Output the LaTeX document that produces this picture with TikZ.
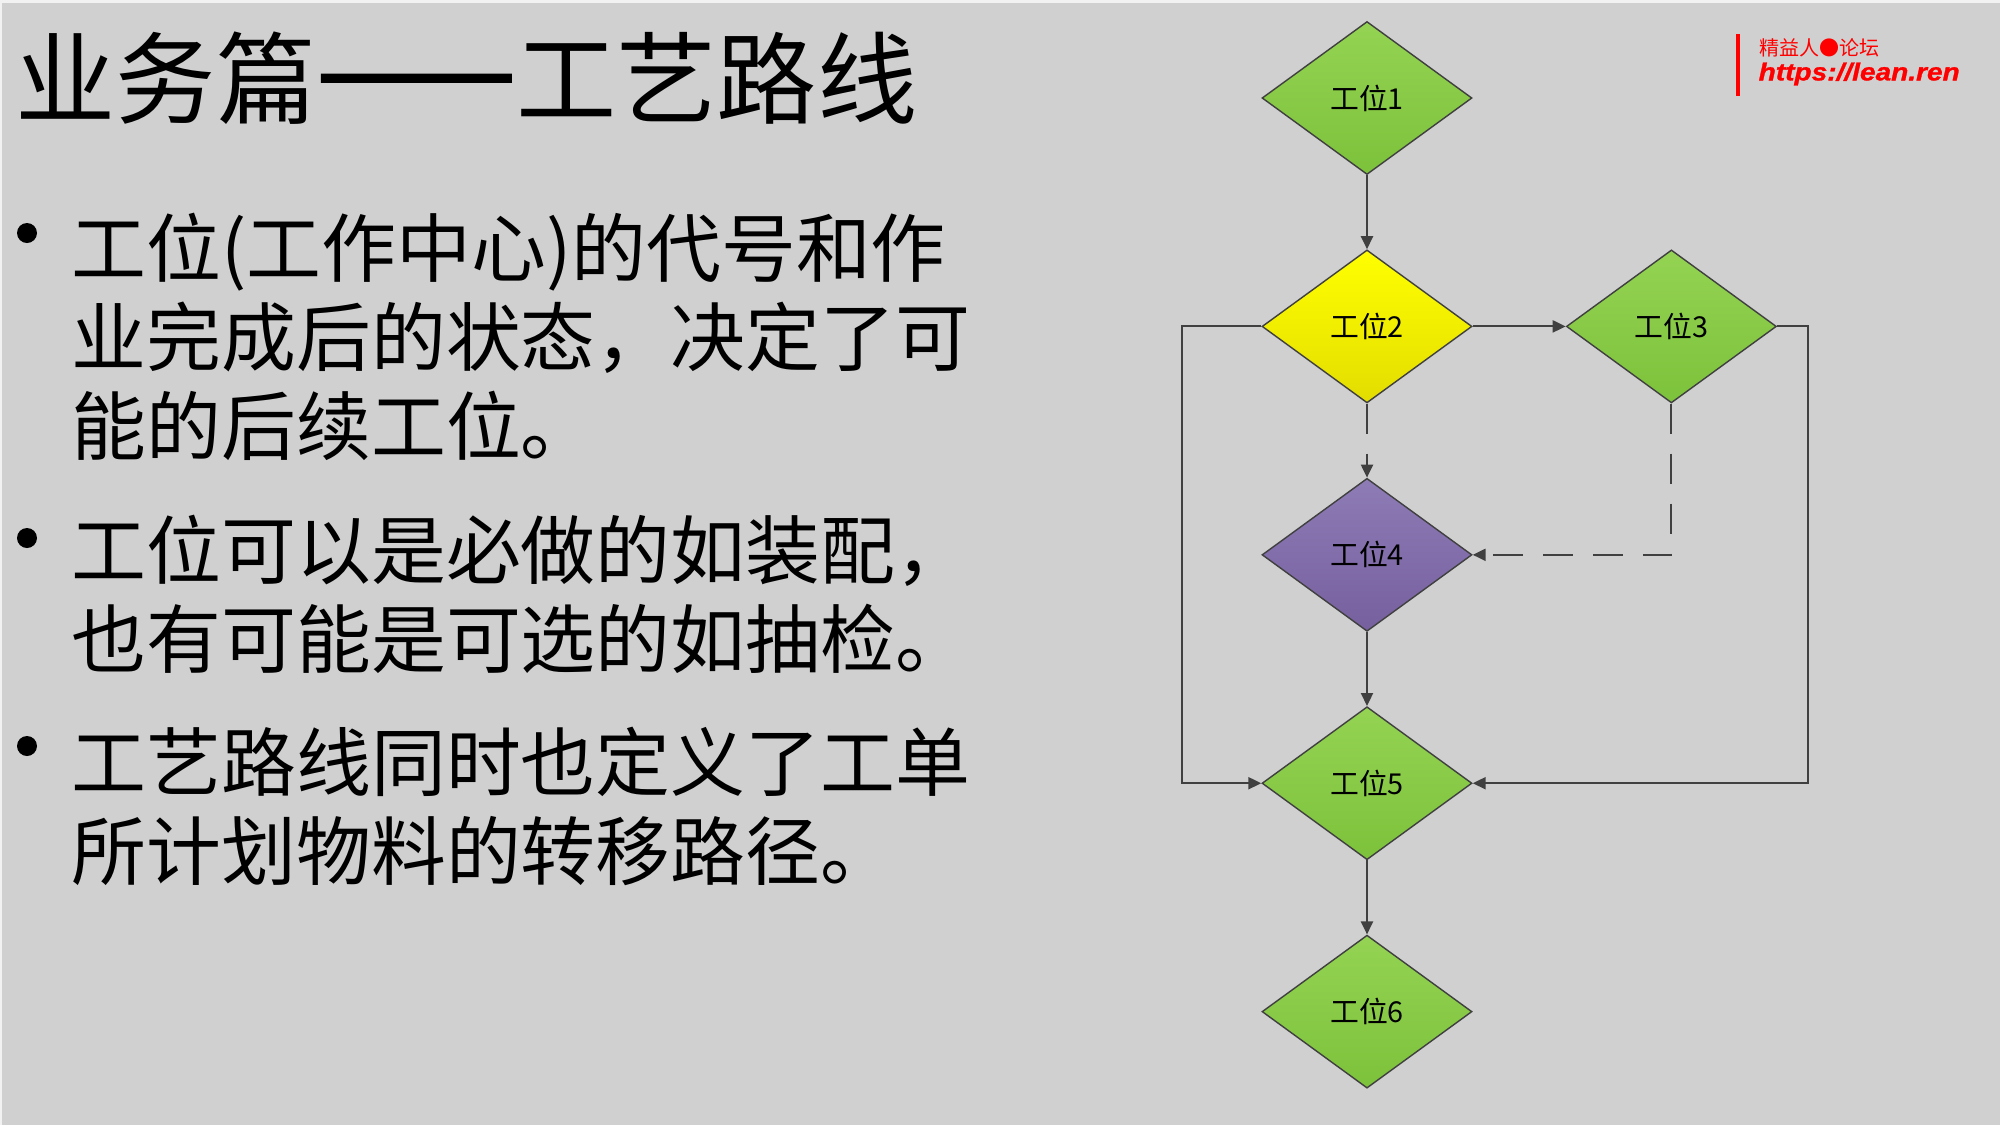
\documentclass[tikz,border=0pt]{standalone}
\usepackage{fontspec}
\setmainfont{Noto Sans CJK SC}
\newfontfamily\urlfont[FakeStretch=1.14, FakeBold=1.2]{Liberation Sans}
\usepackage{tikz}
\usetikzlibrary{shapes, arrows.meta, positioning}
\definecolor{slidebg}{HTML}{D0D0D0}
\definecolor{linegray}{HTML}{404040}
\definecolor{greentop}{HTML}{94D353}
\definecolor{greenbot}{HTML}{7DC23B}
\definecolor{yellowtop}{HTML}{FFFF00}
\definecolor{yellowbot}{HTML}{E3DD00}
\definecolor{purpletop}{HTML}{8E7CB6}
\definecolor{purplebot}{HTML}{76609E}
\tikzstyle{station} = [diamond, draw=linegray, line width=0.4pt, minimum width=2.1cm, minimum height=1.53cm, inner sep=0pt, font=\fontsize{8.2}{9}\selectfont]
\tikzstyle{greenst} = [top color=greentop, bottom color=greenbot]
\tikzstyle{yellowst} = [top color=yellowtop, bottom color=yellowbot]
\tikzstyle{purplest} = [top color=purpletop, bottom color=purplebot]
\tikzstyle{flow} = [draw=linegray, line width=0.6pt, -{Triangle[length=1.3mm, width=1.2mm]}]
\tikzstyle{optional} = [dash pattern=on 3mm off 2mm]
\tikzstyle{bullettext} = [anchor=north west, inner sep=0pt, align=left, font=\fontsize{21.3}{25.4}\selectfont]
\tikzstyle{bulletdot} = [circle, fill=black, inner sep=0pt, minimum size=0.2cm]

\begin{document}
\begin{tikzpicture}
	\useasboundingbox (0,0) rectangle (20,-11.25);
	\fill[slidebg] (0,0) rectangle (20,-11.25);
	\fill[gray!10] (0,0) rectangle (20,-0.03);
	\fill[gray!10] (0,0) rectangle (0.02,-11.25);

	\node[anchor=west, inner sep=0pt, font=\fontsize{28.5}{34}\selectfont] (title) at (0.15,-0.78) {业务篇{\addfontfeature{CharacterWidth=Full, FakeBold=5}——}工艺路线};

	\node[bulletdot] (dot1) at (0.27,-2.33) {};
	\node[bullettext] (item1) at (0.71,-2.12) {工位(工作中心)的代号和作\\业完成后的状态，决定了可\\能的后续工位。};
	\node[bulletdot] (dot2) at (0.27,-5.38) {};
	\node[bullettext] (item2) at (0.71,-5.14) {工位可以是必做的如装配，\\也有可能是可选的如抽检。};
	\node[bulletdot] (dot3) at (0.27,-7.46) {};
	\node[bullettext] (item3) at (0.71,-7.26) {工艺路线同时也定义了工单\\所计划物料的转移路径。};

	\node[station, greenst] (st1) at (13.67,-0.98) {工位1};
	\node[station, yellowst] (st2) [below=0.74cm of st1] {工位2};
	\node[station, greenst] (st3) [right=0.93cm of st2] {工位3};
	\node[station, purplest] (st4) [below=0.74cm of st2] {工位4};
	\node[station, greenst] (st5) [below=0.74cm of st4] {工位5};
	\node[station, greenst] (st6) [below=0.74cm of st5] {工位6};
	\coordinate (leftbus) at (11.82,0);
	\coordinate (rightbus) at (18.08,0);

	\draw[flow] (st1) -- (st2);
	\draw[flow] (st2) -- (st3);
	\draw[flow, optional] (st2) -- (st4);
	\draw[flow, optional] (st3.south) |- (st4.east);
	\draw[flow] (st4) -- (st5);
	\draw[flow] (st2.west) -- (st2.west -| leftbus) |- (st5.west);
	\draw[flow] (st3.east) -- (st3.east -| rightbus) |- (st5.east);
	\draw[flow] (st5) -- (st6);

	\draw[red, line width=0.04cm] (17.38,-0.34) coordinate (bartop) -- (17.38,-0.96) coordinate (barbot);
	\node[anchor=west, text=red, inner sep=0pt, font=\fontsize{5.7}{6}\selectfont] (logocn) at (17.59,-0.48) {精益人●论坛};
	\node[anchor=west, text=red, inner sep=0pt, font=\urlfont\bfseries\itshape\fontsize{7}{8}\selectfont] (logourl) at (17.58,-0.74) {https://lean.ren};
\end{tikzpicture}
\end{document}
